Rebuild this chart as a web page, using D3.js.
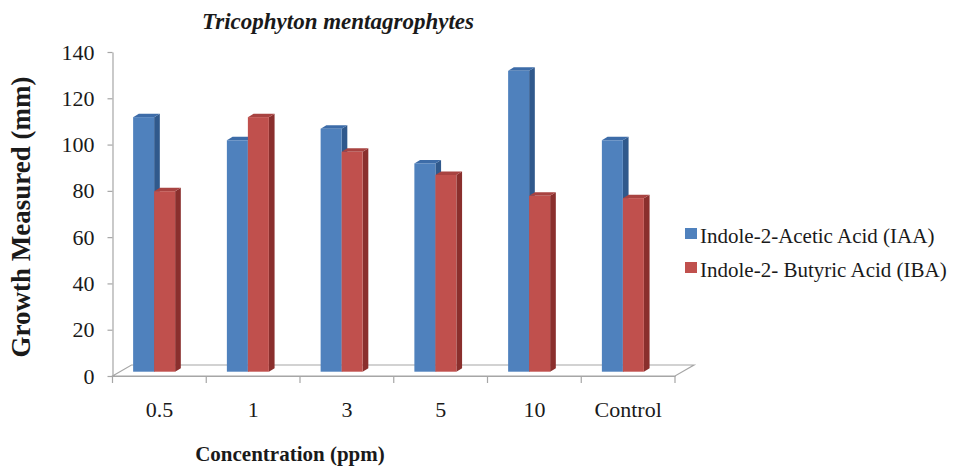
<!DOCTYPE html>
<html>
<head>
<meta charset="utf-8">
<script src="https://cdn.jsdelivr.net/npm/d3@7"></script>
<style>
  body { margin: 0; background: #fff; }
  svg text { font-family: "Liberation Serif", "Times New Roman", serif; fill: #1a1a1a; }
</style>
</head>
<body>
<div class="chart"></div>
<script>
// data
const categories = ["0.5", "1", "3", "5", "10", "Control"];
const iaaValues = [110, 100, 105, 90, 130, 100];
const ibaValues = [78, 110, 95, 85, 76, 75];
const seriesNames = ["Indole-2-Acetic Acid (IAA)", "Indole-2- Butyric Acid (IBA)"];
const yTicks = [0, 20, 40, 60, 80, 100, 120, 140];

const series = [
  {name: seriesNames[0], values: iaaValues, front: "#4f81bd", side: "#30598c", top: "#3d6ca8"},
  {name: seriesNames[1], values: ibaValues, front: "#c0504d", side: "#8a2f2d", top: "#a84341"}
];

const serif = "'Liberation Serif', 'Times New Roman', serif";

const width = 963, height = 470;
const svg = d3.select(".chart").append("svg")
  .attr("width", width)
  .attr("height", height);

// plot frame
const plot = {left: 112.5, right: 675, top: 52, bottom: 376};
const depth = {dx: 19, dy: -11};     // floor depth
const ext = {dx: 5.7, dy: -3.5};     // bar extrusion
const lift = 4.3;                    // bars stand a bit back on the floor

const xScale = d3.scaleBand().domain(categories).range([plot.left, plot.right]).padding(0);
const yScale = d3.scaleLinear().domain([0, 140]).range([plot.bottom, plot.top]);
const band = xScale.bandwidth();
const barW = band * 0.224;

const grey = "#a6a6a6";

// floor
const floor = d3.path();
floor.moveTo(plot.left, plot.bottom);
floor.lineTo(plot.left + depth.dx, plot.bottom + depth.dy);
floor.lineTo(plot.right + depth.dx, plot.bottom + depth.dy);
floor.lineTo(plot.right, plot.bottom);
floor.closePath();
svg.append("path").attr("d", floor.toString())
  .attr("fill", "none").attr("stroke", grey).attr("stroke-width", 1.2);

// y axis
const yAxis = d3.axisLeft(yScale).tickValues(yTicks).tickSizeInner(5).tickSizeOuter(0).tickPadding(13);
const yAxisG = svg.append("g").attr("transform", `translate(${plot.left},0)`).call(yAxis)
  .attr("font-family", serif).attr("font-size", 22);
yAxisG.select(".domain").attr("stroke", grey).attr("stroke-width", 1.2);
yAxisG.selectAll(".tick line").attr("stroke", grey).attr("stroke-width", 1.2);
yAxisG.selectAll(".tick text").attr("fill", "#1a1a1a");

// x axis labels
const xAxis = d3.axisBottom(xScale).tickSize(0).tickPadding(25);
const xAxisG = svg.append("g").attr("transform", `translate(0,${plot.bottom})`).call(xAxis)
  .attr("font-family", serif).attr("font-size", 22);
xAxisG.select(".domain").attr("stroke", grey).attr("stroke-width", 1.2);
xAxisG.selectAll(".tick text").attr("fill", "#1a1a1a");

// x tick marks at category boundaries
const edges = categories.map(c => xScale(c)).concat([xScale(categories[categories.length - 1]) + band]);
svg.append("g").selectAll("line").data(edges).join("line")
  .attr("x1", d => d).attr("x2", d => d)
  .attr("y1", plot.bottom).attr("y2", plot.bottom + 7)
  .attr("stroke", grey).attr("stroke-width", 1.2);

// 3d bars
const barsG = svg.append("g");
categories.forEach((c, ci) => {
  series.forEach((s, si) => {
    const x0 = xScale(c) + band * 0.22 + si * barW;
    const x1 = x0 + barW;
    const yb = yScale(0) - lift;
    const yt = yScale(s.values[ci]) - lift;
    const g = barsG.append("g");
    g.append("polygon")
      .attr("points", [[x1, yt], [x1 + ext.dx, yt + ext.dy], [x1 + ext.dx, yb + ext.dy], [x1, yb]].join(" "))
      .attr("fill", s.side);
    g.append("polygon")
      .attr("points", [[x0, yt], [x0 + ext.dx, yt + ext.dy], [x1 + ext.dx, yt + ext.dy], [x1, yt]].join(" "))
      .attr("fill", s.top);
    g.append("rect")
      .attr("x", x0).attr("y", yt)
      .attr("width", barW).attr("height", yb - yt)
      .attr("fill", s.front);
  });
});

// title
svg.append("text")
  .attr("x", 338).attr("y", 29)
  .attr("text-anchor", "middle")
  .attr("font-family", serif)
  .style("font-size", "23px").style("font-weight", "bold").style("font-style", "italic")
  .text("Tricophyton mentagrophytes");

// axis titles
svg.append("text")
  .attr("transform", "translate(30,217) rotate(-90)")
  .attr("text-anchor", "middle")
  .attr("font-family", serif)
  .style("font-size", "27px").style("font-weight", "bold")
  .text("Growth Measured (mm)");

svg.append("text")
  .attr("x", 290).attr("y", 461)
  .attr("text-anchor", "middle")
  .attr("font-family", serif)
  .style("font-size", "21px").style("font-weight", "bold")
  .text("Concentration (ppm)");

// legend
const legend = svg.append("g").attr("transform", "translate(685,228)");
const items = legend.selectAll("g").data(series).join("g")
  .attr("transform", (d, i) => `translate(0,${i * 34})`);
items.append("rect").attr("width", 12).attr("height", 11).attr("fill", d => d.front);
items.append("text").attr("x", 15).attr("y", 15)
  .attr("font-family", serif)
  .style("font-size", "21px")
  .text(d => d.name);
</script>
</body>
</html>
